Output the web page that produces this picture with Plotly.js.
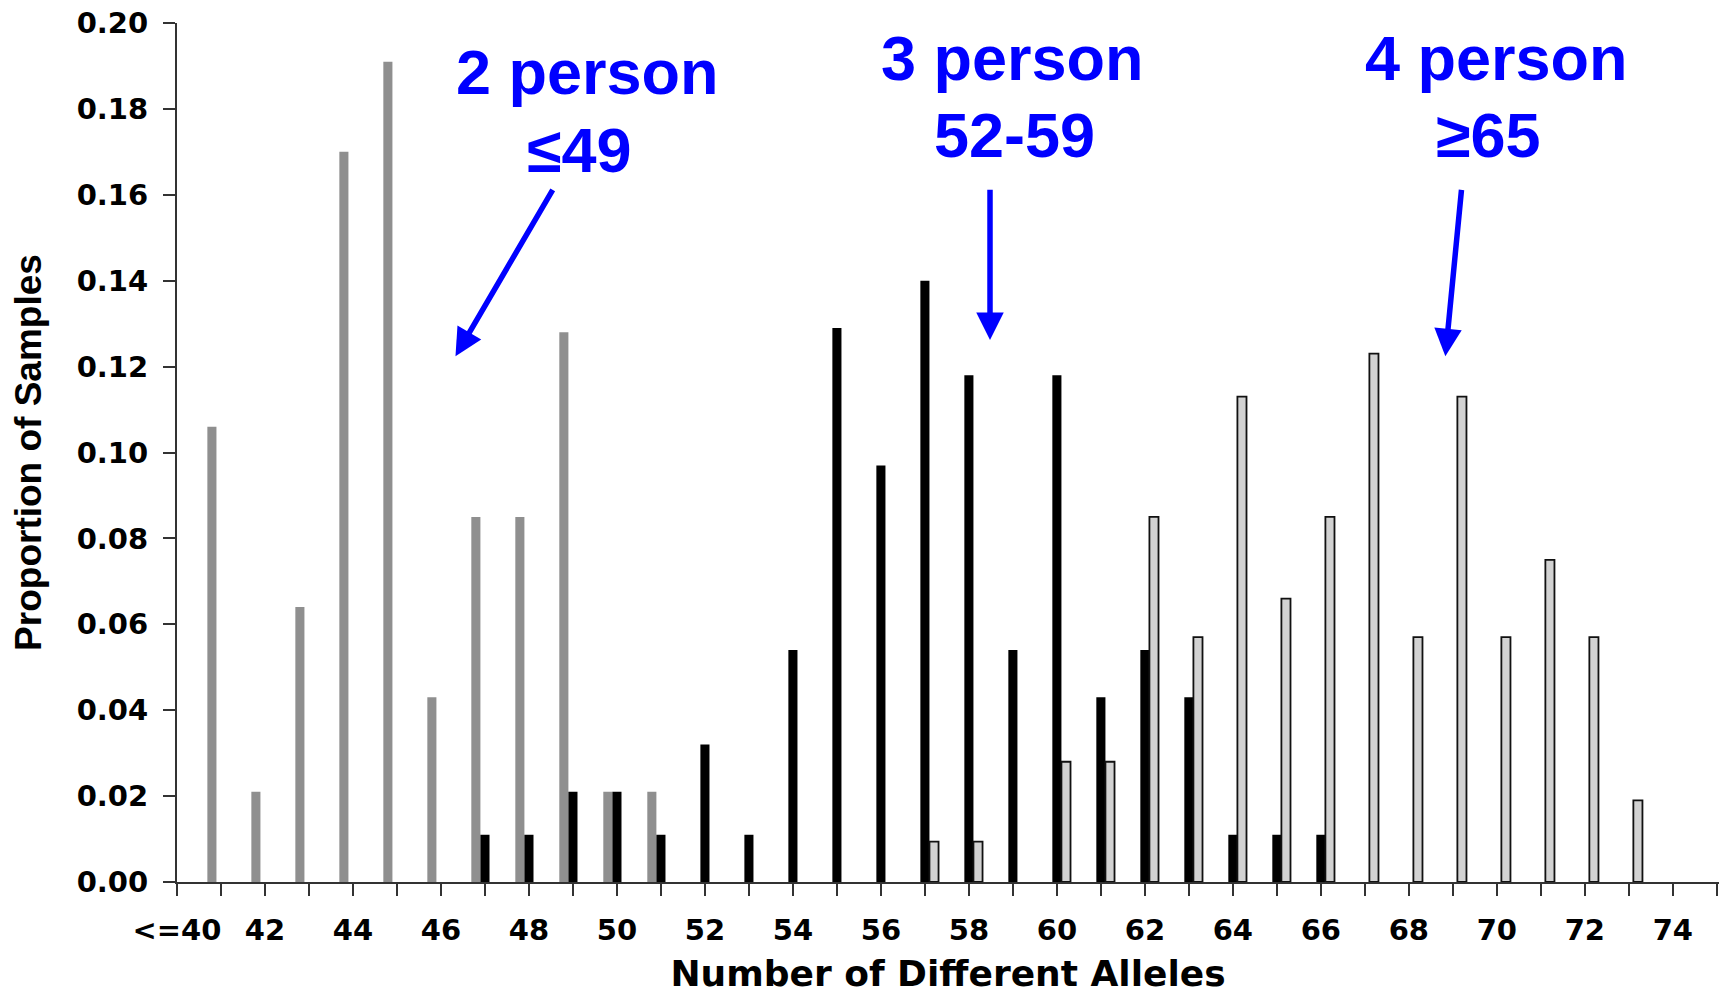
<!DOCTYPE html>
<html><head><meta charset="utf-8">
<script src="https://cdn.plot.ly/plotly-3.0.1.min.js"></script>
<style>html,body{margin:0;padding:0;background:#fff;overflow:hidden}</style>
</head><body><div id="chart" style="width:1719px;height:994px"></div>
<script>
// x categories: number of different alleles (first bin labelled "<=40")
const xTickVals = [40,41,42,43,44,45,46,47,48,49,50,51,52,53,54,55,56,57,58,59,60,61,62,63,64,65,66,67,68,69,70,71,72,73,74,75];
const xTickText = ['&lt;=40','','42','','44','','46','','48','','50','','52','','54','','56','','58','','60','','62','','64','','66','','68','','70','','72','','74',''];

// 2-person mixtures (grey bars)
const twoPersonX = [41,42,43,44,45,46,47,48,49,50,51];
const twoPersonY = [0.106,0.021,0.064,0.170,0.191,0.043,0.085,0.085,0.128,0.021,0.021];

// 3-person mixtures (black bars)
const threePersonX = [47,48,49,50,51,52,53,54,55,56,57,58,59,60,61,62,63,64,65,66];
const threePersonY = [0.011,0.011,0.021,0.021,0.011,0.032,0.011,0.054,0.129,0.097,0.140,0.118,0.054,0.118,0.043,0.054,0.043,0.011,0.011,0.011];

// 4-person mixtures (light bars)
const fourPersonX = [57,58,60,61,62,63,64,65,66,67,68,69,70,71,72,73];
const fourPersonY = [0.0094,0.0094,0.028,0.028,0.085,0.057,0.113,0.066,0.085,0.123,0.057,0.113,0.057,0.075,0.057,0.019];

// callout labels
const calloutLines1 = ['2 person','3 person','4 person'];
const calloutLines2 = ['\u226449','52-59','\u226565'];

const blue = '#0000ff';
const tickFont = {family:'DejaVu Sans', size:29, color:'#000', weight:'bold'};

const traces = [
  {type:'bar', name:'2 person', x:twoPersonX, y:twoPersonY, marker:{color:'#8f8f8f', line:{width:0}}},
  {type:'bar', name:'3 person', x:threePersonX, y:threePersonY, marker:{color:'#000000', line:{width:0}}},
  {type:'bar', name:'4 person', x:fourPersonX, y:fourPersonY, marker:{color:'#d2d2d2', line:{color:'#111111', width:1.8}}}
];

const annFont = {family:'Liberation Sans, Arial, sans-serif', size:63, color:blue, weight:'bold'};
const textPos1 = [[49.34,0.1886],[58.98,0.1919],[70.0,0.1919]];
const textPos2 = [[49.14,0.1705],[59.03,0.1739],[69.8,0.1739]];
const arrows = [
  {tip:[46.33,0.1224], tail:[48.56,0.1615]},
  {tip:[58.48,0.1262], tail:[58.48,0.1615]},
  {tip:[68.83,0.1224], tail:[69.2,0.1615]}
];
const annotations = [];
for (let i=0;i<3;i++){
  annotations.push({xref:'x', yref:'y', x:textPos1[i][0], y:textPos1[i][1], text:calloutLines1[i], showarrow:false, font:annFont, xanchor:'center', yanchor:'middle'});
  annotations.push({xref:'x', yref:'y', x:textPos2[i][0], y:textPos2[i][1], text:calloutLines2[i], showarrow:false, font:annFont, xanchor:'center', yanchor:'middle'});
  annotations.push({xref:'x', yref:'y', axref:'x', ayref:'y', x:arrows[i].tip[0], y:arrows[i].tip[1], ax:arrows[i].tail[0], ay:arrows[i].tail[1], text:'', showarrow:true, arrowhead:2, arrowsize:1, arrowwidth:5.5, arrowcolor:blue});
}

const layout = {
  width:1719, height:994,
  margin:{l:177, r:0, t:23, b:112, pad:0},
  paper_bgcolor:'#fff', plot_bgcolor:'#fff',
  showlegend:false,
  barmode:'group', bargap:0.38, bargroupgap:0,
  xaxis:{
    range:[40,75.05], tickmode:'array', tickvals:xTickVals, ticktext:xTickText,
    showline:true, linecolor:'#333', linewidth:2, ticks:'outside', ticklen:12, tickwidth:2, tickcolor:'#333',
    showgrid:false, zeroline:false, tickfont:tickFont, ticklabelstandoff:9, tickangle:0,
    title:{text:'\u00a0\u00a0\u00a0Number of Different Alleles', font:{family:'DejaVu Sans', size:36, color:'#000', weight:'bold'}, standoff:24}
  },
  yaxis:{
    range:[0,0.2], dtick:0.02, tick0:0, tickformat:'.2f',
    showline:true, linecolor:'#333', linewidth:2, ticks:'outside', ticklen:12, tickwidth:2, tickcolor:'#333',
    showgrid:false, zeroline:false, tickfont:tickFont, ticklabelstandoff:9,
    title:{text:'Proportion of Samples', font:{family:'Liberation Sans, Arial, sans-serif', size:37, color:'#000', weight:'bold'}, standoff:24}
  },
  annotations:annotations
};

Plotly.newPlot('chart', traces, layout, {displayModeBar:false, staticPlot:true});
</script>
</body></html>
